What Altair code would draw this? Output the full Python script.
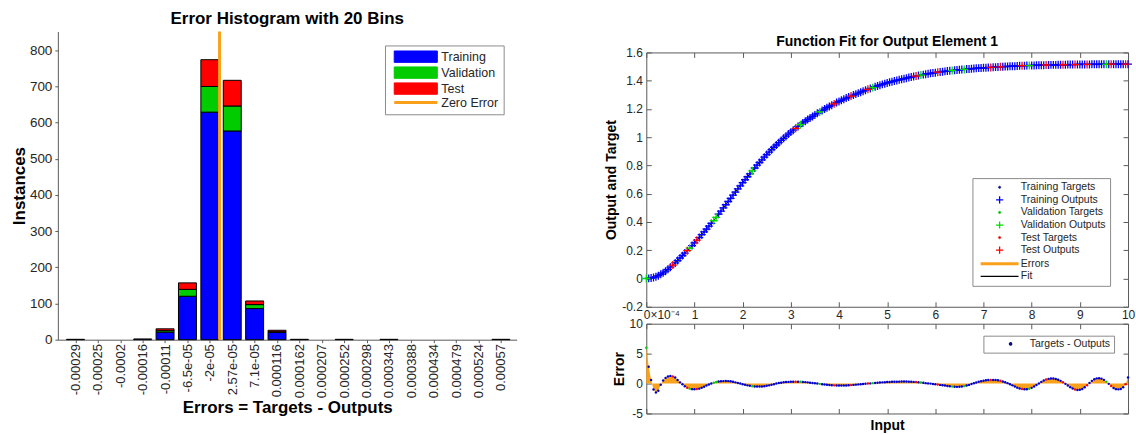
import altair as alt
import pandas as pd

FONT = "Liberation Sans"
TXT = "#262626"
AXC = "#5a5a5a"

# ---------------- Error histogram (left panel) ----------------
bin_labels = ["-0.00029", "-0.00025", "-0.0002", "-0.00016", "-0.00011", "-6.5e-05", "-2e-05",
              "2.57e-05", "7.1e-05", "0.000116", "0.000162", "0.000207", "0.000252", "0.000298",
              "0.000343", "0.000388", "0.000434", "0.000479", "0.000524", "0.00057"]
bin_first_center = -0.00029182
bin_width = 4.536e-05
train_counts = [1, 0, 0, 2, 21, 120, 629, 577, 86, 20, 1, 0, 1, 0, 1, 0, 0, 0, 0, 1]
val_counts = [0, 0, 0, 0, 4, 19, 71, 69, 11, 2, 0, 0, 0, 0, 0, 0, 0, 0, 0, 0]
test_counts = [0, 0, 0, 0, 5, 18, 74, 71, 10, 4, 0, 0, 0, 0, 0, 0, 0, 0, 0, 0]
zero_error = [0.0]
hist_series = ["Training", "Validation", "Test", "Zero Error"]
hist_colors = ["#0000FF", "#00CC00", "#FF0000", "#F9A11B"]

# ---------------- Function fit (right panels), input in units of 1e-4 ----------------
inputs = [
    0.00, 0.05, 0.10, 0.15, 0.20, 0.25, 0.30, 0.35, 0.40, 0.45, 0.50, 0.55, 0.60, 0.65, 0.70, 0.75, 0.80, 0.85, 0.90, 0.95,
    1.00, 1.05, 1.10, 1.15, 1.20, 1.25, 1.30, 1.35, 1.40, 1.45, 1.50, 1.55, 1.60, 1.65, 1.70, 1.75, 1.80, 1.85, 1.90, 1.95,
    2.00, 2.05, 2.10, 2.15, 2.20, 2.25, 2.30, 2.35, 2.40, 2.45, 2.50, 2.55, 2.60, 2.65, 2.70, 2.75, 2.80, 2.85, 2.90, 2.95,
    3.00, 3.05, 3.10, 3.15, 3.20, 3.25, 3.30, 3.35, 3.40, 3.45, 3.50, 3.55, 3.60, 3.65, 3.70, 3.75, 3.80, 3.85, 3.90, 3.95,
    4.00, 4.05, 4.10, 4.15, 4.20, 4.25, 4.30, 4.35, 4.40, 4.45, 4.50, 4.55, 4.60, 4.65, 4.70, 4.75, 4.80, 4.85, 4.90, 4.95,
    5.00, 5.05, 5.10, 5.15, 5.20, 5.25, 5.30, 5.35, 5.40, 5.45, 5.50, 5.55, 5.60, 5.65, 5.70, 5.75, 5.80, 5.85, 5.90, 5.95,
    6.00, 6.05, 6.10, 6.15, 6.20, 6.25, 6.30, 6.35, 6.40, 6.45, 6.50, 6.55, 6.60, 6.65, 6.70, 6.75, 6.80, 6.85, 6.90, 6.95,
    7.00, 7.05, 7.10, 7.15, 7.20, 7.25, 7.30, 7.35, 7.40, 7.45, 7.50, 7.55, 7.60, 7.65, 7.70, 7.75, 7.80, 7.85, 7.90, 7.95,
    8.00, 8.05, 8.10, 8.15, 8.20, 8.25, 8.30, 8.35, 8.40, 8.45, 8.50, 8.55, 8.60, 8.65, 8.70, 8.75, 8.80, 8.85, 8.90, 8.95,
    9.00, 9.05, 9.10, 9.15, 9.20, 9.25, 9.30, 9.35, 9.40, 9.45, 9.50, 9.55, 9.60, 9.65, 9.70, 9.75, 9.80, 9.85, 9.90, 9.95,
    10.00]
targets = [
    0.000, 0.001, 0.003, 0.007, 0.012, 0.020, 0.030, 0.040, 0.052, 0.065, 0.080, 0.095, 0.110, 0.127, 0.145, 0.162, 0.180, 0.197, 0.215, 0.233,
    0.252, 0.271, 0.290, 0.310, 0.330, 0.350, 0.370, 0.390, 0.410, 0.432, 0.455, 0.477, 0.500, 0.522, 0.545, 0.567, 0.590, 0.612, 0.635, 0.656,
    0.678, 0.699, 0.720, 0.741, 0.762, 0.782, 0.802, 0.821, 0.840, 0.859, 0.877, 0.895, 0.912, 0.929, 0.945, 0.961, 0.977, 0.992, 1.007, 1.022,
    1.036, 1.050, 1.063, 1.076, 1.089, 1.101, 1.113, 1.125, 1.136, 1.147, 1.158, 1.169, 1.179, 1.189, 1.199, 1.209, 1.218, 1.227, 1.236, 1.245,
    1.253, 1.261, 1.269, 1.277, 1.284, 1.291, 1.298, 1.305, 1.312, 1.319, 1.326, 1.333, 1.339, 1.345, 1.351, 1.357, 1.363, 1.368, 1.374, 1.379,
    1.384, 1.389, 1.393, 1.398, 1.402, 1.406, 1.410, 1.414, 1.418, 1.422, 1.426, 1.429, 1.433, 1.436, 1.440, 1.443, 1.446, 1.449, 1.452, 1.454,
    1.457, 1.460, 1.462, 1.464, 1.466, 1.468, 1.470, 1.472, 1.474, 1.476, 1.477, 1.479, 1.480, 1.482, 1.483, 1.485, 1.486, 1.488, 1.489, 1.490,
    1.491, 1.492, 1.493, 1.494, 1.495, 1.496, 1.497, 1.498, 1.499, 1.500, 1.501, 1.502, 1.503, 1.503, 1.504, 1.505, 1.506, 1.506, 1.507, 1.507,
    1.508, 1.508, 1.509, 1.509, 1.510, 1.510, 1.511, 1.511, 1.512, 1.512, 1.512, 1.513, 1.513, 1.513, 1.513, 1.514, 1.514, 1.514, 1.514, 1.515,
    1.515, 1.515, 1.515, 1.515, 1.515, 1.516, 1.516, 1.516, 1.516, 1.516, 1.516, 1.516, 1.516, 1.517, 1.517, 1.517, 1.517, 1.517, 1.517, 1.517,
    1.517]
errors = [
    6.0, 2.8, 0.6, -1.0, -1.5, -1.2, -0.2, 0.5, 0.95, 1.2, 1.28, 1.2, 1.0, 0.6, 0.2, -0.1, -0.45, -0.7, -0.85, -0.93,
    -0.95, -0.92, -0.85, -0.7, -0.52, -0.33, -0.15, 0.0, 0.12, 0.25, 0.33, 0.38, 0.41, 0.42, 0.41, 0.37, 0.3, 0.2, 0.1, 0.0,
    -0.1, -0.2, -0.3, -0.38, -0.44, -0.48, -0.5, -0.5, -0.48, -0.44, -0.38, -0.3, -0.2, -0.1, 0.0, 0.08, 0.15, 0.21, 0.25, 0.28,
    0.3, 0.31, 0.31, 0.3, 0.29, 0.27, 0.24, 0.2, 0.15, 0.1, 0.05, 0.0, -0.05, -0.1, -0.15, -0.2, -0.24, -0.27, -0.3, -0.32,
    -0.33, -0.33, -0.32, -0.31, -0.29, -0.26, -0.22, -0.18, -0.14, -0.1, -0.06, -0.03, 0.0, 0.03, 0.07, 0.1, 0.14, 0.17, 0.2, 0.23,
    0.25, 0.27, 0.29, 0.3, 0.31, 0.32, 0.33, 0.33, 0.33, 0.32, 0.3, 0.28, 0.25, 0.21, 0.17, 0.12, 0.07, 0.03, -0.01, -0.06,
    -0.11, -0.16, -0.22, -0.28, -0.34, -0.4, -0.46, -0.51, -0.54, -0.55, -0.54, -0.5, -0.43, -0.33, -0.22, -0.08, 0.05, 0.18, 0.3, 0.4,
    0.48, 0.54, 0.58, 0.6, 0.6, 0.59, 0.55, 0.47, 0.36, 0.22, 0.07, -0.1, -0.3, -0.5, -0.68, -0.83, -0.92, -0.96, -0.95, -0.87,
    -0.72, -0.5, -0.25, 0.02, 0.28, 0.5, 0.67, 0.78, 0.83, 0.83, 0.77, 0.64, 0.45, 0.22, -0.05, -0.33, -0.6, -0.84, -1.0, -1.07,
    -1.05, -0.9, -0.62, -0.28, 0.1, 0.45, 0.72, 0.87, 0.9, 0.82, 0.62, 0.32, -0.05, -0.42, -0.74, -0.93, -0.97, -0.92, -0.62, -0.1,
    1.0]
test_points = [11, 17, 21, 62, 78, 85, 92, 112, 121, 143, 147, 156, 166, 173, 178, 183, 193, 199]
validation_points = [0, 18, 28, 29, 44, 64, 72, 94, 114, 127, 132, 159, 191]

fit_series = ["Training Targets", "Training Outputs", "Validation Targets", "Validation Outputs",
              "Test Targets", "Test Outputs", "Errors", "Fit"]
fit_colors = ["#0a0a80", "#0000FF", "#00C000", "#00DD00", "#E00000", "#FF0000", "#F9A11B", "#000000"]
split_dot_colors = {"Training": "#0000CC", "Validation": "#00CC00", "Test": "#FF0000"}
err_label = ["Targets - Outputs"]

# ---------------- tables ----------------
centers = [bin_first_center + i * bin_width for i in range(len(bin_labels))]
rows = []
for i, c in enumerate(centers):
    for k, (name, counts) in enumerate([("Training", train_counts), ("Validation", val_counts), ("Test", test_counts)]):
        if counts[i] > 0:
            rows.append({"err": c, "series": name, "count": counts[i], "ord": k})
hist_df = pd.DataFrame(rows)
zero_df = pd.DataFrame({"err": zero_error, "series": ["Zero Error"]})

split = []
for i in range(len(inputs)):
    if i in test_points:
        split.append("Test")
    elif i in validation_points:
        split.append("Validation")
    else:
        split.append("Training")
rank = {"Training": 0, "Validation": 1, "Test": 2}
fit_df = pd.DataFrame({"input": inputs, "target": targets, "err": errors, "split": split})
fit_df["output"] = fit_df["target"] - fit_df["err"] * 1e-5
fit_df["rank"] = fit_df["split"].map(rank)
tgt_df = fit_df.assign(series=fit_df["split"] + " Targets").sort_values("rank", kind="stable")
out_df = fit_df.assign(series=fit_df["split"] + " Outputs").sort_values("rank", kind="stable")
dot_df = fit_df.assign(lbl=err_label[0], dotcol=fit_df["split"].map(split_dot_colors)).sort_values(
    "rank", kind="stable")


def lit(x):
    return ("'%s'" % x) if isinstance(x, str) else repr(x)


def pick(keys, vals):
    expr = lit(vals[-1])
    for k, v in reversed(list(zip(keys[:-1], vals[:-1]))):
        expr = "datum.value === %s ? %s : (%s)" % (lit(k), lit(v), expr)
    return expr


# ---------------- left: histogram ----------------
H_RECT = "M-0.33,-0.95H6.87V0.95H-0.33Z"
H_LINE = "M-0.33,0H6.87"
hist_legend = alt.Legend(
    orient="none", legendX=328, legendY=14, padding=5, rowPadding=0,
    labelFont=FONT, labelFontSize=12.5, labelColor=TXT, labelOffset=39, symbolSize=144,
    strokeColor="#8c8c8c", fillColor="white", symbolOpacity=1,
    symbolType=alt.ExprRef(expr=pick(hist_series, [H_RECT, H_RECT, H_RECT, H_LINE])),
    symbolStrokeColor=alt.ExprRef(expr=pick(hist_series, ["#000000", "#000000", "#000000", hist_colors[3]])),
    symbolStrokeWidth=alt.ExprRef(expr=pick(hist_series, [1, 1, 1, 3])),
)
hist_color = alt.Color("series:N", title=None,
                       scale=alt.Scale(domain=hist_series, range=hist_colors),
                       legend=hist_legend)
label_expr = "[%s][round((datum.value - (%r)) / %r)]" % (
    ",".join("'%s'" % s for s in bin_labels), bin_first_center, bin_width)
hist_x_scale = alt.Scale(domain=[bin_first_center - 0.566 * bin_width, bin_first_center + 19.48 * bin_width],
                         nice=False, zero=False)
hist_x_axis = alt.Axis(values=centers, labelExpr=label_expr, labelAngle=270, labelFont=FONT, labelFontSize=13,
                       labelColor=TXT, labelPadding=1, tickSize=3, tickColor=AXC, domainColor=AXC, grid=False,
                       labelFlush=False, labelOverlap=False, labelBound=False, labelSeparation=0,
                       titleFont=FONT, titleFontSize=17,
                       titleFontWeight="bold", titleColor="#000000", titlePadding=2)
hist_y_axis = alt.Axis(values=[0, 100, 200, 300, 400, 500, 600, 700, 800], tickSize=3, labelPadding=3,
                       labelFont=FONT, labelFontSize=13.5, labelColor=TXT, tickColor=AXC, domainColor=AXC,
                       grid=False, labelFlush=False, titleFont=FONT, titleFontSize=17, titleFontWeight="bold",
                       titleColor="#000000", titlePadding=0.5)

bars = alt.Chart(hist_df).mark_bar(size=18, stroke="black", strokeWidth=1).encode(
    x=alt.X("err:Q", scale=hist_x_scale, axis=hist_x_axis, title="Errors = Targets - Outputs"),
    y=alt.Y("count:Q", stack="zero", scale=alt.Scale(domain=[0, 852], nice=False), axis=hist_y_axis,
            title="Instances"),
    color=hist_color,
    order=alt.Order("ord:Q"),
)
zero_rule = alt.Chart(zero_df).mark_rule(strokeWidth=3).encode(
    x=alt.X("err:Q", scale=hist_x_scale, axis=hist_x_axis, title="Errors = Targets - Outputs"),
    color=hist_color,
)
hist = alt.layer(bars, zero_rule).properties(
    width=460, height=309,
    title=alt.TitleParams("Error Histogram with 20 Bins", font=FONT, fontSize=17, fontWeight="bold",
                          color="#000000", offset=2, anchor="middle"),
)


# ---------------- right: function fit ----------------
def inward(orient, labels, values, **kw):
    props = dict(orient=orient, values=values, labels=labels, domain=False, ticks=True, tickSize=5,
                 tickColor=AXC, tickWidth=1, offset=-5, grid=False, labelFont=FONT, labelFontSize=12,
                 labelColor=TXT, labelPadding=4, labelFlush=False, labelOverlap=False, titleFont=FONT,
                 titleFontSize=14, titleFontWeight="bold", titleColor="#000000")
    props.update(kw)
    return alt.Axis(**props)


num_expr = "replace(format(datum.value, '.1~f'), '\u2212', '-')"
x_ticks = [0, 1, 2, 3, 4, 5, 6, 7, 8, 9, 10]
y_ticks = [-0.2, 0, 0.2, 0.4, 0.6, 0.8, 1, 1.2, 1.4, 1.6]
e_ticks = [-5, 0, 5, 10]
xs = alt.Scale(domain=[0, 10], nice=False, zero=False)
ys = alt.Scale(domain=[-0.2, 1.6], nice=False, zero=False)
es = alt.Scale(domain=[-5, 10], nice=False, zero=False)

P_DOT = "M5.6,0A0.4,0.4,0,1,1,6.4,0A0.4,0.4,0,1,1,5.6,0Z"
P_CROSS = "M4.8,0H7.2M6,-1.2V1.2"
P_LINE = "M-0.33,0H12.33"
fit_legend = alt.Legend(
    orient="none", legendX=327, legendY=126, padding=4, rowPadding=0.6,
    labelFont=FONT, labelFontSize=10.5, labelColor=TXT, labelOffset=34, symbolSize=36,
    strokeColor="#8c8c8c", fillColor="white", symbolOpacity=1,
    symbolType=alt.ExprRef(expr=pick(fit_series, [P_DOT, P_CROSS, P_DOT, P_CROSS, P_DOT, P_CROSS, P_LINE, P_LINE])),
    symbolFillColor=alt.ExprRef(expr=pick(fit_series, [fit_colors[0], "transparent", fit_colors[2], "transparent",
                                                       fit_colors[4], "transparent", "transparent", "transparent"])),
    symbolStrokeColor=alt.ExprRef(expr=pick(fit_series, fit_colors)),
    symbolStrokeWidth=alt.ExprRef(expr=pick(fit_series, [0.5, 1.3, 0.5, 1.3, 0.5, 1.3, 3, 1.3])),
)
fit_color = alt.Color("series:N", title=None, scale=alt.Scale(domain=fit_series, range=fit_colors),
                      legend=fit_legend)

up_frame = alt.Chart(fit_df).mark_point(opacity=0).encode(
    x=alt.X("input:Q", scale=xs, axis=inward("top", False, x_ticks), title=None),
    y=alt.Y("target:Q", scale=ys, axis=inward("right", False, y_ticks), title=None),
)
fit_line = alt.Chart(fit_df).mark_line(color="black", strokeWidth=1).encode(
    x=alt.X("input:Q", scale=xs, title=None,
            axis=inward("bottom", True, x_ticks, labelPadding=3,
                        labelExpr="datum.value === 0 ? '0\u00d710\u207b\u2074' : datum.label",
                        labelAlign={"condition": {"test": "datum.value === 0", "value": "left"}, "value": "center"},
                        labelOffset={"condition": {"test": "datum.value === 0", "value": -3}, "value": 0})),
    y=alt.Y("target:Q", scale=ys, title="Output and Target",
            axis=inward("left", True, y_ticks, labelExpr=num_expr, titlePadding=3)),
)
tgt_dots = alt.Chart(tgt_df).mark_point(shape="circle", filled=True, size=5, opacity=1).encode(
    x=alt.X("input:Q", scale=xs, axis=None),
    y=alt.Y("target:Q", scale=ys, axis=None),
    color=fit_color,
)
out_cross = alt.Chart(out_df).mark_point(shape="M-1,0H1M0,-1V1", filled=False, size=64, strokeWidth=1.3,
                                         opacity=1).encode(
    x=alt.X("input:Q", scale=xs, axis=None),
    y=alt.Y("output:Q", scale=ys, axis=None),
    color=fit_color,
)
upper = alt.layer(up_frame, fit_line, tgt_dots, out_cross).resolve_axis(
    x="independent", y="independent"
).properties(
    width=483, height=255,
    view=alt.ViewBackground(stroke=AXC, strokeWidth=1),
    title=alt.TitleParams("Function Fit for Output Element 1", font=FONT, fontSize=14, fontWeight="bold",
                          color="#000000", offset=-3, anchor="middle"),
)

err_legend = alt.Legend(
    orient="none", legendX=338, legendY=12, padding=3,
    labelFont=FONT, labelFontSize=10.5, labelColor=TXT, labelOffset=33, symbolSize=36,
    strokeColor="#8c8c8c", fillColor="white", symbolOpacity=1,
    symbolType="M5.93,0A0.4,0.4,0,1,1,6.73,0A0.4,0.4,0,1,1,5.93,0Z",
    symbolFillColor="#0a0a80", symbolStrokeWidth=1.2,
)
low_frame = alt.Chart(fit_df).mark_point(opacity=0).encode(
    x=alt.X("input:Q", scale=xs, axis=inward("top", False, x_ticks), title=None),
    y=alt.Y("err:Q", scale=es, axis=inward("right", False, e_ticks), title=None),
)
err_area = alt.Chart(fit_df).mark_area(opacity=1, color=fit_colors[6]).encode(
    x=alt.X("input:Q", scale=xs, title="Input", axis=inward("bottom", False, x_ticks, titlePadding=5)),
    y=alt.Y("err:Q", scale=es, stack=False, title="Error",
            axis=inward("left", True, e_ticks, labelExpr=num_expr, titlePadding=3)),
)
err_dots = alt.Chart(dot_df).mark_circle(size=6, opacity=1, strokeWidth=0).encode(
    x=alt.X("input:Q", scale=xs, axis=None),
    y=alt.Y("err:Q", scale=es, axis=None),
    fill=alt.Fill("dotcol:N", scale=None),
    stroke=alt.Stroke("lbl:N", title=None, scale=alt.Scale(domain=err_label, range=["#0a0a80"]),
                      legend=err_legend),
)
lower = alt.layer(low_frame, err_area, err_dots).resolve_axis(
    x="independent", y="independent"
).properties(width=483, height=90, view=alt.ViewBackground(stroke=AXC, strokeWidth=1))

spacer = alt.Chart(pd.DataFrame({"v": [0]})).mark_point(opacity=0).properties(width=483, height=4)

right_col = alt.vconcat(spacer, upper, lower, spacing=17, bounds="flush").resolve_scale(
    color="independent", stroke="independent", fill="independent")

chart = alt.hconcat(hist, right_col, spacing=130, bounds="flush").resolve_scale(
    color="independent", stroke="independent", fill="independent"
).properties(
    padding={"left": 10, "top": 9, "right": 0, "bottom": 0},
    background="white",
).configure(font=FONT).configure_view(stroke="transparent").configure_axis(labelOverlap=False)

chart.save("out.html", embed_options={"renderer": "svg", "actions": False})
